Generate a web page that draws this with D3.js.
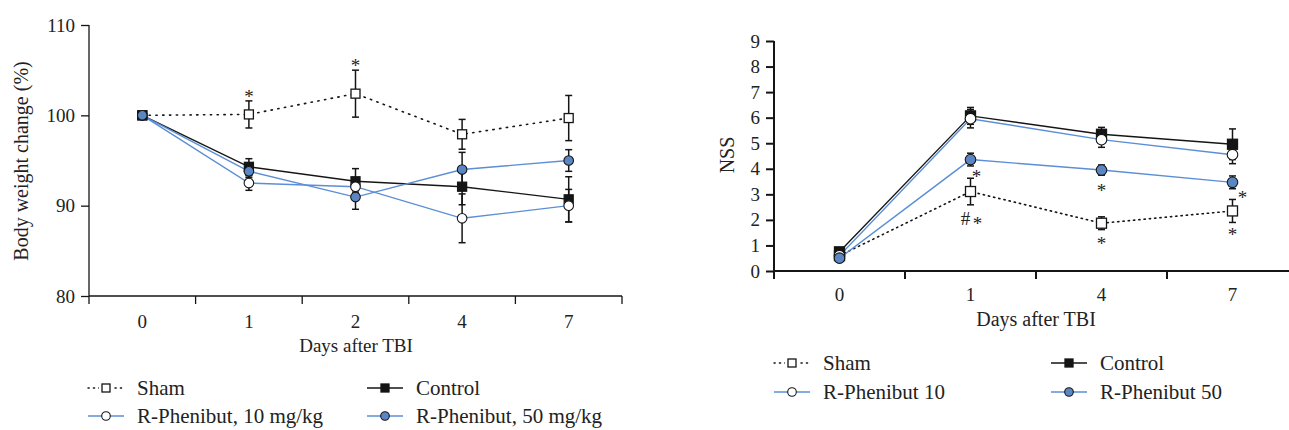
<!DOCTYPE html>
<html>
<head>
<meta charset="utf-8">
<script src="https://cdn.jsdelivr.net/npm/d3@7"></script>
<style>
  body { margin: 0; background: #fff; }
  svg { display: block; }
  text { font-family: "Liberation Serif", "DejaVu Serif", serif; fill: #222; }
</style>
</head>
<body>
<svg id="chart" width="1289" height="430"></svg>
<script>
// ---------- data ----------
const series = ["Sham", "Control", "R-Phenibut 10", "R-Phenibut 50"];

// Left panel: body weight change (%)
const bwDays = ["0", "1", "2", "4", "7"];
const bwSham      = [100, 100.1, 102.4, 97.9, 99.7];
const bwShamErr   = [0, 1.5, 2.6, 1.65, 2.5];
const bwControl   = [100, 94.3, 92.7, 92.1, 90.7];
const bwControlErr= [0, 0.9, 1.4, 2.0, 2.5];
const bwR10       = [100, 92.5, 92.1, 88.6, 90.0];
const bwR10Err    = [0, 0.8, 0.6, 2.7, 1.8];
const bwR50       = [100, 93.8, 90.95, 94.0, 95.0];
const bwR50Err    = [0, 0.7, 1.35, 1.9, 1.2];
const bwTicks = [80, 90, 100, 110];
const bwLegend = ["Sham", "Control", "R-Phenibut, 10 mg/kg", "R-Phenibut, 50 mg/kg"];
const bwMarks = [ {day: "1", value: 102.5, text: "*", dx: 0}, {day: "2", value: 105.9, text: "*", dx: 0} ];

// Right panel: NSS
const nssDays = ["0", "1", "4", "7"];
const nssSham      = [0.6, 3.11, 1.87, 2.35];
const nssShamErr   = [0, 0.52, 0.25, 0.45];
const nssControl   = [0.75, 6.07, 5.35, 4.96];
const nssControlErr= [0, 0.33, 0.27, 0.6];
const nssR10       = [0.6, 5.96, 5.14, 4.55];
const nssR10Err    = [0, 0.36, 0.3, 0.35];
const nssR50       = [0.5, 4.36, 3.95, 3.47];
const nssR50Err    = [0, 0.25, 0.2, 0.25];
const nssTicks = [0, 1, 2, 3, 4, 5, 6, 7, 8, 9];
const nssLegend = ["Sham", "Control", "R-Phenibut 10", "R-Phenibut 50"];
const nssMarks = [
  {day: "1", value: 3.83, text: "*", dx: 6},
  {day: "1", value: 2.05, text: "#", dx: -5},
  {day: "1", value: 2.0, text: "*", dx: 7},
  {day: "4", value: 3.28, text: "*", dx: 0},
  {day: "4", value: 1.23, text: "*", dx: 0},
  {day: "7", value: 3.02, text: "*", dx: 10},
  {day: "7", value: 1.58, text: "*", dx: 0}
];

// ---------- styles ----------
const BLUE_LINE = "#5b8ed6";
const BLUE_FILL = "#5b86c4";
const BLACK = "#151515";
const styles = {
  "Sham":          {line: BLACK, dash: true, shape: "square", fill: "#fff"},
  "Control":       {line: BLACK, dash: false, shape: "square", fill: BLACK},
  "R-Phenibut 10": {line: BLUE_LINE, dash: false, shape: "circle", fill: "#fff"},
  "R-Phenibut 50": {line: BLUE_LINE, dash: false, shape: "circle", fill: BLUE_FILL}
};

const svg = d3.select("#chart");

function drawPanel(cfg) {
  const g = svg.append("g");
  const x = d3.scaleBand().domain(cfg.days).range([cfg.x0, cfg.x1]).padding(0);
  const y = d3.scaleLinear().domain(cfg.yDomain).range([cfg.yBottom, cfg.yTop]);

  // y axis
  const ya = g.append("g").attr("transform", `translate(${cfg.x0},0)`)
    .call(d3.axisLeft(y).tickValues(cfg.ticks).tickSize(8).tickPadding(6).tickFormat(d3.format("d")));
  ya.attr("font-family", null).attr("font-size", null);
  ya.selectAll("path, line").attr("stroke", BLACK).attr("stroke-width", cfg.axisW);
  ya.select(".domain").attr("d", `M0,${cfg.yTop}V${cfg.yBottom}`);
  ya.selectAll("text").style("font-size", cfg.tickFs + "px").attr("fill", "#222")
    .style("font-family", '"Liberation Serif", serif');

  // x axis: line + band boundary ticks + centered labels
  const xa = g.append("g").attr("transform", `translate(0,${cfg.yBottom})`)
    .call(d3.axisBottom(x).tickSize(0).tickPadding(cfg.xLabelPad));
  xa.attr("font-family", null).attr("font-size", null);
  xa.select(".domain").attr("d", `M${cfg.x0},0H${cfg.x1}`).attr("stroke", BLACK).attr("stroke-width", cfg.axisW);
  xa.selectAll("text").style("font-size", cfg.tickFs + "px").attr("fill", "#222")
    .style("font-family", '"Liberation Serif", serif');
  const bounds = cfg.days.map(d => x(d)).concat([x(cfg.days[cfg.days.length - 1]) + x.bandwidth()]);
  xa.selectAll("line.bt").data(bounds).enter().append("line").attr("class", "bt")
    .attr("x1", d => d).attr("x2", d => d).attr("y1", 0).attr("y2", 8)
    .attr("stroke", BLACK).attr("stroke-width", cfg.axisW);

  // axis titles
  g.append("text").attr("x", cfg.xTitleX).attr("y", cfg.xTitleY).attr("text-anchor", "middle")
    .style("font-size", cfg.titleFs + "px").text("Days after TBI");
  g.append("text").attr("transform", `translate(${cfg.yTitleX},${cfg.yTitleY}) rotate(-90)`)
    .attr("text-anchor", "middle").style("font-size", cfg.yTitleFs + "px").text(cfg.yTitle);

  const cx = d => x(d) + x.bandwidth() / 2;

  // lines
  cfg.data.forEach(s => {
    const st = styles[s.name];
    const line = d3.line().x((v, i) => cx(cfg.days[i])).y(v => y(v));
    g.append("path").attr("d", line(s.values)).attr("fill", "none")
      .attr("stroke", st.line).attr("stroke-width", st.dash ? 1.6 : 1.4)
      .attr("stroke-dasharray", st.dash ? cfg.dash : null)
      .attr("stroke-linecap", st.dash ? "round" : "butt");
  });
  // error bars
  cfg.data.forEach(s => {
    s.values.forEach((v, i) => {
      const e = s.err[i];
      if (!e) return;
      const xc = cx(cfg.days[i]);
      const eg = g.append("g").attr("stroke", BLACK).attr("stroke-width", 1.5);
      eg.append("line").attr("x1", xc).attr("x2", xc).attr("y1", y(v - e)).attr("y2", y(v + e));
      [v - e, v + e].forEach(b => eg.append("line").attr("x1", xc - 3.5).attr("x2", xc + 3.5).attr("y1", y(b)).attr("y2", y(b)));
    });
  });
  // markers
  cfg.data.forEach(s => {
    const st = styles[s.name];
    s.values.forEach((v, i) => drawMarker(g, st, cx(cfg.days[i]), y(v), cfg.mSize));
  });
  // significance marks
  cfg.marks.forEach(m => {
    g.append("text").attr("x", cx(m.day) + m.dx).attr("y", y(m.value) + (m.text === "*" ? 10 : 6))
      .attr("text-anchor", "middle").style("font-size", "19px").attr("fill", "#333").text(m.text);
  });

  // legend
  cfg.legend.forEach((lab, i) => {
    const st = styles[series[i]];
    const col = i % 2, row = Math.floor(i / 2);
    const lx = cfg.legX[col], ly = cfg.legY[row];
    const lg = g.append("g");
    lg.append("line").attr("x1", lx - 18).attr("x2", lx + 18).attr("y1", ly).attr("y2", ly)
      .attr("stroke", st.line).attr("stroke-width", 1.4)
      .attr("stroke-dasharray", st.dash ? "1.2,4.2" : null).attr("stroke-linecap", st.dash ? "round" : "butt");
    if (st.dash) {
      lg.append("rect").attr("x", lx - 7).attr("y", ly - 7).attr("width", 14).attr("height", 14).attr("fill", "#fff");
    }
    drawMarker(lg, st, lx, ly, 8);
    lg.append("text").attr("x", lx + 31).attr("y", ly + 7).style("font-size", cfg.legFs + "px").text(lab);
  });
}

function drawMarker(g, st, x, y, size) {
  if (st.shape === "square") {
    g.append("rect").attr("x", x - size / 2).attr("y", y - size / 2).attr("width", size).attr("height", size)
      .attr("fill", st.fill).attr("stroke", BLACK).attr("stroke-width", 1.3);
  } else {
    g.append("circle").attr("cx", x).attr("cy", y).attr("r", size / 2 + 0.3)
      .attr("fill", st.fill).attr("stroke", BLACK).attr("stroke-width", 1.1);
  }
}

drawPanel({
  days: bwDays, x0: 89, x1: 622, yDomain: [80, 110], yBottom: 296, yTop: 25,
  ticks: bwTicks, axisW: 1.3, tickFs: 19, titleFs: 19, yTitleFs: 20, xLabelPad: 19,
  xTitleX: 356, xTitleY: 352, yTitle: "Body weight change (%)", yTitleX: 28, yTitleY: 161,
  dash: "1.3,5.5", mSize: 9,
  data: [
    {name: "Sham", values: bwSham, err: bwShamErr},
    {name: "Control", values: bwControl, err: bwControlErr},
    {name: "R-Phenibut 10", values: bwR10, err: bwR10Err},
    {name: "R-Phenibut 50", values: bwR50, err: bwR50Err}
  ],
  marks: bwMarks,
  legend: bwLegend, legX: [106, 385], legY: [388, 416], legFs: 21
});

drawPanel({
  days: nssDays, x0: 774, x1: 1298, yDomain: [0, 9], yBottom: 271, yTop: 41,
  ticks: nssTicks, axisW: 2, tickFs: 19, titleFs: 20, yTitleFs: 20, xLabelPad: 17,
  xTitleX: 1036, xTitleY: 326, yTitle: "NSS", yTitleX: 734, yTitleY: 155,
  dash: "1.3,4", mSize: 10,
  data: [
    {name: "Sham", values: nssSham, err: nssShamErr},
    {name: "Control", values: nssControl, err: nssControlErr},
    {name: "R-Phenibut 10", values: nssR10, err: nssR10Err},
    {name: "R-Phenibut 50", values: nssR50, err: nssR50Err}
  ],
  marks: nssMarks,
  legend: nssLegend, legX: [792, 1069], legY: [363, 392], legFs: 21
});
</script>
</body>
</html>
